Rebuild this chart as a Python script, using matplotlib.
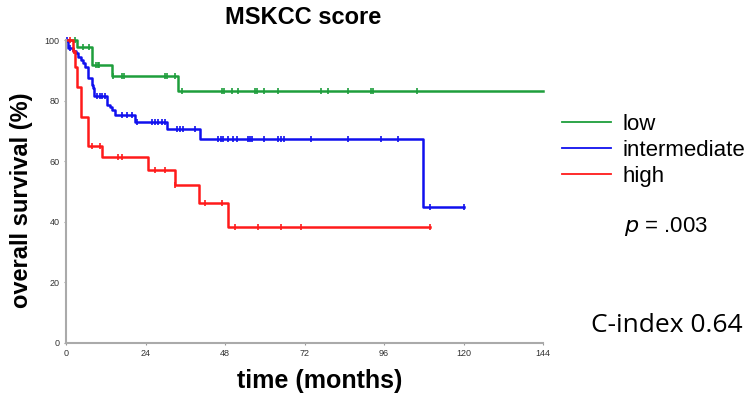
import matplotlib
matplotlib.use("Agg")
import matplotlib.pyplot as plt

plt.rcParams["font.family"] = ["Liberation Sans", "DejaVu Sans"]

# Kaplan-Meier step data (months, % surviving)
low_t = [0, 3.2, 7.9, 14.0, 33.9, 144]
low_s = [100, 97.8, 91.7, 88.2, 83.3, 83.3]
low_cens_t = [2.7, 5.0, 7.0, 9.0, 9.6, 10.1, 14.3, 16.8, 17.5, 29.9, 30.6, 32.9,
              35.0, 47.0, 47.7, 50.1, 51.9, 57.1, 57.8, 59.9, 64.0, 77.0, 79.0,
              85.0, 92.1, 92.7, 106.1]

mid_t = [0, 0.7, 2.2, 3.0, 3.7, 4.4, 5.0, 5.6, 6.6, 7.7, 8.1, 8.4, 12.4, 13.4,
         13.9, 14.9, 20.8, 30.6, 40.5, 107.8, 120.2]
mid_s = [100, 97.2, 96.5, 95.6, 94.5, 93.4, 92.3, 91.0, 87.4, 85.1, 84.0, 81.6,
         78.5, 77.9, 76.9, 75.2, 73.0, 70.6, 67.3, 45.0, 45.0]
mid_cens_t = [0.3, 1.2, 9.4, 10.2, 11.0, 11.8, 16.8, 18.3, 19.8, 21.4, 25.9,
              26.9, 27.9, 28.9, 29.9, 33.4, 34.4, 35.4, 39.0, 46.0, 46.7, 47.4,
              48.8, 50.5, 51.6, 54.9, 55.6, 56.3, 59.9, 64.1, 64.9, 65.7, 74.0,
              85.0, 95.1, 100.1, 110.0, 120.0]

high_t = [0, 2.0, 2.8, 3.4, 4.5, 6.5, 11.0, 24.9, 32.9, 40.0, 49.0, 109.8]
high_s = [100, 96.5, 91.0, 84.6, 74.7, 65.0, 61.4, 57.1, 52.1, 46.1, 38.4, 38.4]
high_cens_t = [1.2, 2.4, 7.8, 10.3, 15.8, 16.8, 26.9, 29.9, 32.9, 42.0, 47.0,
               50.9, 58.1, 65.0, 71.0, 109.8]

groups = ["low", "intermediate", "high"]
colors = ["#1e9e3c", "#1010ee", "#ff1a1a"]


def surv_at(ts, ss, t):
    level = ss[0]
    for ti, si in zip(ts, ss):
        if ti <= t:
            level = si
    return level


fig = plt.figure(figsize=(7.54, 3.99), dpi=100)
ax = fig.add_axes([66 / 754, 1 - 343 / 399, (543 - 66) / 754, (343 - 40) / 399])

series = [(low_t, low_s, low_cens_t), (mid_t, mid_s, mid_cens_t),
          (high_t, high_s, high_cens_t)]
for (ts, ss, cs), name, col in zip(series, groups, colors):
    ax.step(ts, ss, where="post", color=col, lw=1.8, clip_on=False)
    cy = [surv_at(ts, ss, c) for c in cs]
    ax.plot(cs, cy, ls="none", marker="|", ms=5, mew=1.2, color=col,
            clip_on=False)

ax.set_xlim(0, 144)
ax.set_ylim(0, 100)
ax.set_xticks([0, 24, 48, 72, 96, 120, 144])
ax.set_yticks([0, 20, 40, 60, 80, 100])
ax.tick_params(labelsize=6.5, length=1.5, colors="#999999", labelcolor="#333333",
               pad=3)
for side in ("top", "right"):
    ax.spines[side].set_visible(False)
for side in ("left", "bottom"):
    ax.spines[side].set_color("#aaaaaa")
    ax.spines[side].set_linewidth(1.5)

fig.text(303 / 754, 1 - 18 / 399, "MSKCC score", ha="center", va="center",
         fontsize=17, fontweight="bold")
fig.text(22 / 754, 1 - 200 / 399, "overall survival (%)", ha="center",
         va="center", rotation=90, fontsize=17, fontweight="bold")
fig.text(320 / 754, 1 - 381 / 399, "time (months)", ha="center", va="center",
         fontsize=18, fontweight="bold")

# legend handles drawn thinner than the curves, as in the reference
legend_lines = [plt.Line2D([], [], color=c, lw=1.3) for c in colors]
fig.legend(handles=legend_lines, labels=groups, loc="upper left",
           bbox_to_anchor=(562 / 754, 1 - 114 / 399), frameon=False,
           fontsize=16, handlelength=2.2, handletextpad=0.5, labelspacing=0.22,
           borderaxespad=0, borderpad=0)

fig.text(624 / 754, 1 - 227 / 399, r"$\it{p}$ = .003", ha="left",
         va="center", fontsize=16)
fig.text(667 / 754, 1 - 325 / 399, "C-index 0.64", ha="center", va="center",
         fontsize=19, family=["Open Sans", "DejaVu Sans"])

fig.savefig("out.png", dpi=100)
